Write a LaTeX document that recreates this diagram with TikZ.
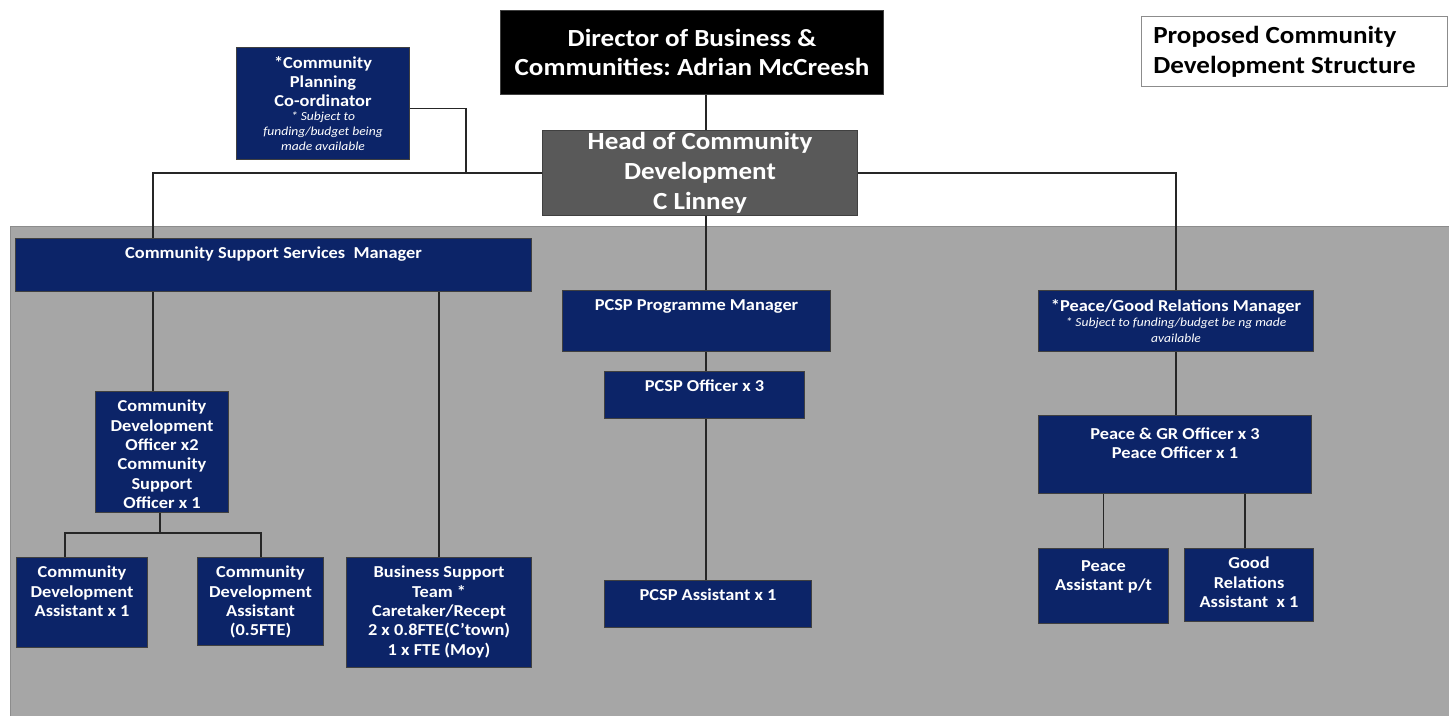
\documentclass[tikz,border=0pt]{standalone}
\usepackage{fontspec}
\setmainfont{Carlito}[FakeStretch=1.1]

\definecolor{navy}{RGB}{12,36,104}
\definecolor{panel}{RGB}{166,166,166}
\definecolor{headgrey}{RGB}{89,89,89}

% box from its top left to its bottom right corner (units of the picture)
\newcommand\postbox[6][navy]{%
  \node[post, fill=#1, minimum width={(#5-#3)*0.02cm},
        minimum height={(#6-#4)*0.02cm}] (#2) at (#3,#4) {};}
% small print under a post
\newcommand\subj{\itshape\mdseries\fontsize{7}{8.2}\selectfont}

\begin{document}
\frenchspacing
\begin{tikzpicture}[x=0.02cm,y=-0.02cm,
  post/.style={draw=black!75, line width=0.6pt, inner sep=0pt, anchor=north west},
  lbl/.style={anchor=north, align=center, text=white, inner xsep=0pt, inner ysep=5pt,
              font=\bfseries\fontsize{9.5}{11}\selectfont},
  big/.style={align=center, font=\bfseries\fontsize{14}{17}\selectfont},
  link/.style={draw=black!85, line width=1pt}]
\useasboundingbox (0,0) rectangle (1449,716);

% grey panel behind the teams
\fill[panel, draw=black!45] (10,226) rectangle (1452,720);

%% top of the structure
\postbox[black]{dir}{500}{10}{883}{94}
\node[big, text=white] (dir-t) at (dir.center) {Director of Business \&\\Communities: Adrian McCreesh};

\postbox[headgrey]{head}{542}{130}{857}{215}
\node[big, text=white] (head-t) at (head.center) {Head of Community\\Development\\C Linney};

\node[post, fill=white, draw=black!45, minimum width={306*0.02cm}, minimum height={70*0.02cm}] (title) at (1141,16) {};
\node[anchor=west, align=left, inner sep=0pt, font=\bfseries\fontsize{14}{17}\selectfont] (title-t)
  at ([xshift=6.8pt]title.west) {Proposed Community\\Development Structure};

\postbox{plan}{236}{47}{409}{159}
\node[lbl] (plan-t) at (plan.north) {*Community\\Planning\\Co-ordinator\\[-3pt]
  \subj * Subject to\\[-2.5pt] \subj funding/budget being\\[-2.5pt] \subj made available};

%% community support services
\postbox{cssm}{15}{238}{531}{291}
\node[lbl] (cssm-t) at (cssm.north) {Community Support Services~ Manager};

\postbox{cdo}{95}{391}{228}{512}
\node[lbl] (cdo-t) at (cdo.north) {Community\\Development\\Officer x2\\Community\\Support\\Officer x 1};

\postbox{cda1}{16}{557}{147}{647}
\node[lbl] (cda1-t) at (cda1.north) {Community\\Development\\Assistant x 1};

\postbox{cda2}{197}{557}{323}{645}
\node[lbl] (cda2-t) at (cda2.north) {Community\\Development\\Assistant\\(0.5FTE)};

\postbox{bst}{346}{557}{531}{667}
\node[lbl] (bst-t) at (bst.north) {Business Support\\Team *\\Caretaker/Recept\\2 x 0.8FTE(C'town)\\1 x FTE (Moy)};

%% PCSP
\postbox{pm}{562}{290}{830}{351}
\node[lbl] (pm-t) at (pm.north) {PCSP Programme Manager};

\postbox{po}{604}{371}{804}{418}
\node[lbl] (po-t) at (po.north) {PCSP Officer x 3};

\postbox{pas}{604}{580}{811}{627}
\node[lbl] (pas-t) at (pas.north) {PCSP Assistant x 1};

%% peace and good relations
\postbox{pgr}{1038}{290}{1313}{351}
\node[lbl] (pgr-t) at (pgr.north) {*Peace/Good Relations Manager\\[-2pt]
  \subj * Subject to funding/budget be ng made\\[-2pt] \subj available};

\postbox{pgo}{1038}{415}{1311}{493}
\node[lbl] (pgo-t) at ([yshift=-2pt]pgo.north) {Peace \& GR Officer x 3\\Peace Officer x 1};

\postbox{pa}{1038}{548}{1168}{623}
\node[lbl] (pa-t) at ([yshift=-2pt]pa.north) {Peace\\Assistant p/t};

\postbox{gra}{1184}{548}{1313}{621}
\node[lbl] (gra-t) at (gra.north) {Good\\Relations\\Assistant~ x 1};

%% joints of the lines
\coordinate (spine) at (706,0);
\coordinate (plan-in) at (466,172);
\coordinate (cssm-in) at (153,238);
\coordinate (fork) at (160,533);
\coordinate (cda1-in) at (65,557);
\coordinate (cda2-in) at (261,557);
\coordinate (gra-in) at (1245,548);

\begin{scope}[link]
\draw (dir.south -| spine) -- (head.north -| spine);
\draw (head.west) -| (cssm-in);
\draw ([yshift=-2.8pt]plan.east) -| (plan-in);
\draw (head.east) -| (pgr.north);
\draw (head.south -| spine) -- (pm.north -| spine);
\draw (pm.south -| spine) -- (po.north -| spine);
\draw (po.south -| spine) -- (pas.north -| spine);
\draw (cssm.south -| cssm-in) -- (cdo.north -| cssm-in);
\draw (bst.north) -- (bst.north |- cssm.south);
\draw (cdo.south -| fork) -- (fork);
\draw (cda1-in) |- (fork) -| (cda2-in);
\draw (pgr.south) -- (pgr.south |- pgo.north);
\draw (pa.north) -- (pa.north |- pgo.south);
\draw (gra-in) -- (gra-in |- pgo.south);
\end{scope}
\end{tikzpicture}
\end{document}
